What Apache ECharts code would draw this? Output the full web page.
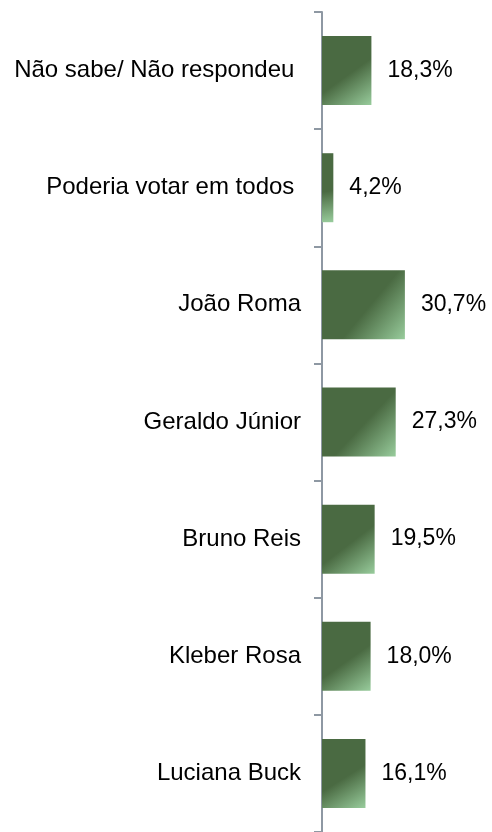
<!DOCTYPE html>
<html>
<head>
<meta charset="utf-8">
<style>
html,body{margin:0;padding:0;background:#fff;}
#chart{width:492px;height:832px;}
</style>
<script src="https://cdn.jsdelivr.net/npm/echarts@6/dist/echarts.min.js"></script>
</head>
<body>
<div id="chart"></div>
<script>
var categories = ["Não sabe/ Não respondeu ", "Poderia votar em todos ", "João Roma", "Geraldo Júnior", "Bruno Reis", "Kleber Rosa", "Luciana Buck"];
var values = [18.3, 4.2, 30.7, 27.3, 19.5, 18.0, 16.1];

var chart = echarts.init(document.getElementById('chart'), null, {renderer: 'canvas'});
var barGradient = new echarts.graphic.LinearGradient(0, 0, 1, 1, [
  {offset: 0, color: '#4a6a42'},
  {offset: 0.55, color: '#4a6a42'},
  {offset: 1, color: '#98cc9c'}
]);
chart.setOption({
  animation: false,
  grid: {left: 322, right: 8, top: 12, height: 825, containLabel: false},
  xAxis: {type: 'value', min: 0, max: 60, show: false},
  yAxis: {
    type: 'category',
    data: categories,
    inverse: true,
    axisLine: {show: true, lineStyle: {color: '#8e98a3', width: 2}},
    axisTick: {show: true, length: 8, lineStyle: {color: '#8e98a3', width: 2}},
    axisLabel: {margin: 21, color: '#000', fontSize: 24, fontFamily: 'Liberation Sans, Arial, sans-serif'},
    splitLine: {show: false}
  },
  series: [{
    type: 'bar',
    data: values,
    barWidth: 69,
    itemStyle: {color: barGradient},
    label: {
      show: true,
      position: 'right',
      distance: 16,
      color: '#000',
      fontSize: 23,
      fontFamily: 'Liberation Sans, Arial, sans-serif',
      formatter: function (p) { return p.value.toFixed(1).replace('.', ',') + '%'; }
    }
  }]
});
</script>
</body>
</html>
